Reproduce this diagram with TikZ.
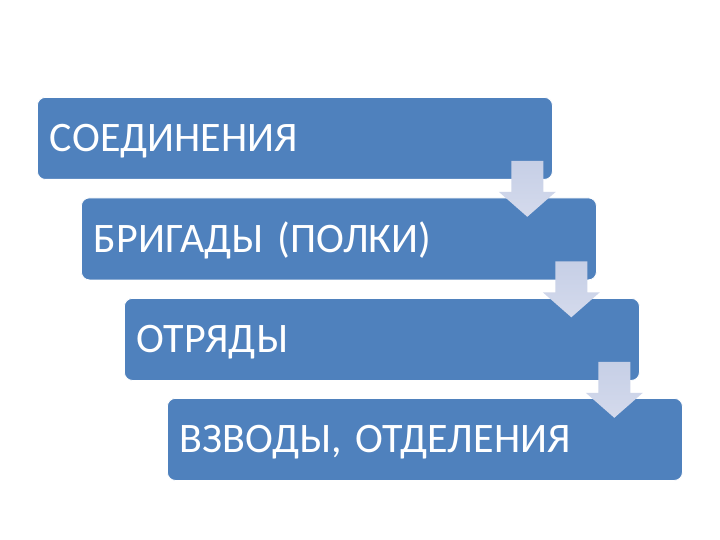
\documentclass[tikz,border=0pt]{standalone}
\usepackage{fontspec}
\setmainfont{Carlito}
\usetikzlibrary{positioning}
\definecolor{blokblue}{RGB}{79,129,189}
\definecolor{strelkatop}{RGB}{198,207,230}
\definecolor{strelkabot}{RGB}{212,218,236}
\tikzset{
  blok/.style={fill=blokblue, draw=white, line width=0.8pt, rounded corners=8pt,
    anchor=north west, minimum width=515pt, minimum height=82pt,
    text width=490pt, inner xsep=12pt, align=left, text=white,
    text height=27pt, text depth=0pt,
    font=\fontsize{42}{46}\selectfont},
  strelka/.style={top color=strelkatop, bottom color=strelkabot, draw=none}
}
% block arrow pointing down, top middle of the shaft at #1
\newcommand{\strelka}[1]{%
  \path[strelka] (#1) ++(-16,0) -- ++(32,0) -- ++(0,31) -- ++(12.5,0)
    -- ++(-28.5,25) -- ++(-28.5,-25) -- ++(12.5,0) -- cycle;}
\begin{document}
\begin{tikzpicture}[x=1pt,y=-1pt]
\useasboundingbox[fill=white] (0,0) rectangle (720,540);
% Drawing boxes
\node[blok] (soed) at (37,97) {СОЕДИНЕНИЯ};
\node[blok] (brig) at (81,197.5) {БРИГАДЫ (ПОЛКИ)};
\node[blok] (otr) at (124,298) {ОТРЯДЫ};
\node[blok] (vzv) at (167,398) {ВЗВОДЫ, ОТДЕЛЕНИЯ};
% Done with boxes; drawing arrows
\coordinate[above left=19pt and 25.5pt of soed.south east] (s1);
\coordinate[above left=19pt and 25.5pt of brig.south east] (s2);
\coordinate[above left=19pt and 25.5pt of otr.south east] (s3);
\strelka{s1}
\strelka{s2}
\strelka{s3}
% Done with arrows
\end{tikzpicture}
\end{document}
